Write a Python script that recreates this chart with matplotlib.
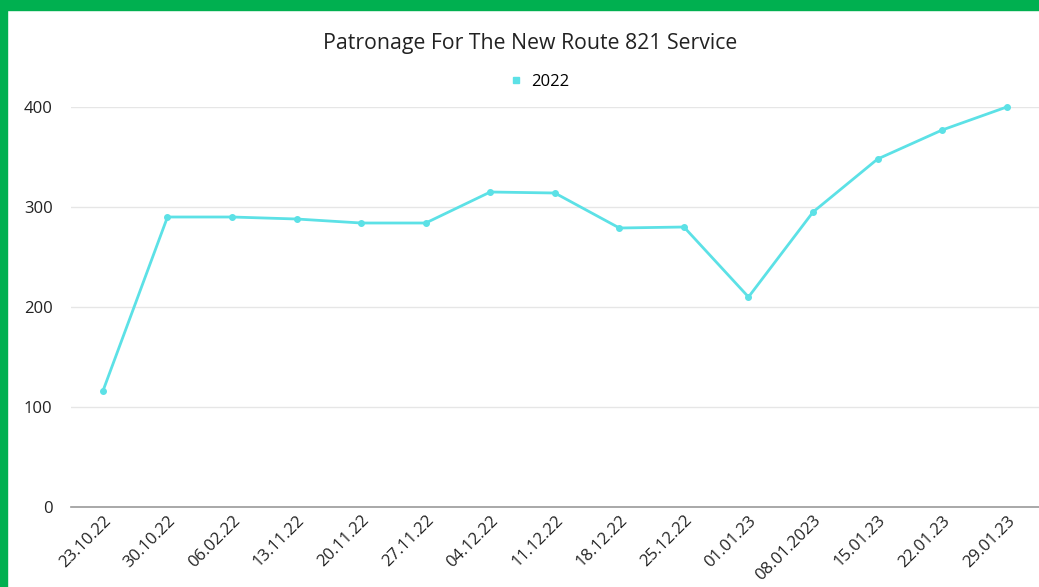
import matplotlib.pyplot as plt
import matplotlib.transforms as mtransforms
from matplotlib.patches import Rectangle

weeks = ['23.10.22', '30.10.22', '06.02.22', '13.11.22', '20.11.22', '27.11.22',
         '04.12.22', '11.12.22', '18.12.22', '25.12.22', '01.01.23', '08.01.2023',
         '15.01.23', '22.01.23', '29.01.23']
patronage = [116, 290, 290, 288, 284, 284, 315, 314, 279, 280, 210, 295, 348, 377, 400]
y_ticks = [0, 100, 200, 300, 400]

line_color = '#5ce1e6'
green = '#00b050'

plt.rcParams['font.family'] = ['Open Sans', 'DejaVu Sans']

fig = plt.figure(figsize=(10.39, 5.87), dpi=100)
ax = fig.add_axes([0.068, 0.1363, 0.932, 0.6814])

x = list(range(len(weeks)))
ax.plot(x, patronage, color=line_color, linewidth=2.0, marker='o', markersize=4,
        label='2022', clip_on=False)

ax.set_xlim(-0.5, len(weeks) - 0.5)
ax.set_ylim(0, 400)
ax.set_yticks(y_ticks)
ax.set_yticklabels([str(v) for v in y_ticks])
ax.set_xticks(x)
ax.set_xticklabels(weeks, rotation=45, ha='right', rotation_mode='anchor')
offset = mtransforms.ScaledTranslation(18 / 100, 0, fig.dpi_scale_trans)
for lbl in ax.get_xticklabels():
    lbl.set_transform(lbl.get_transform() + offset)

ax.tick_params(axis='y', length=0, labelsize=12, colors='#222222', pad=13)
ax.tick_params(axis='x', length=0, labelsize=12, colors='#222222', pad=4)
ax.grid(axis='y', color='#e6e6e6', linewidth=1)
ax.set_axisbelow(True)
for side in ['top', 'right', 'left']:
    ax.spines[side].set_visible(False)
ax.spines['bottom'].set_color('#9a9a9a')
ax.spines['bottom'].set_linewidth(1.2)

fig.text(0.51, 0.926, 'Patronage For The New Route 821 Service', ha='center', va='center',
         fontsize=15.3, color='#222222')
ax.legend(loc='center', bbox_to_anchor=(0.52, 0.86), bbox_transform=fig.transFigure,
          frameon=False, fontsize=12, handlelength=0.6, handletextpad=0.6,
          markerscale=1.2)
leg = ax.get_legend()
for h in leg.legend_handles:
    h.set_marker('s')
    h.set_linestyle('')

# green frame along the top and left edges
fig.patches.append(Rectangle((0, 1 - 10 / 587), 1, 10 / 587, transform=fig.transFigure,
                             color=green, zorder=10))
fig.patches.append(Rectangle((0, 0), 7 / 1039, 1, transform=fig.transFigure,
                             color=green, zorder=10))

fig.savefig('out.png', dpi=100)
